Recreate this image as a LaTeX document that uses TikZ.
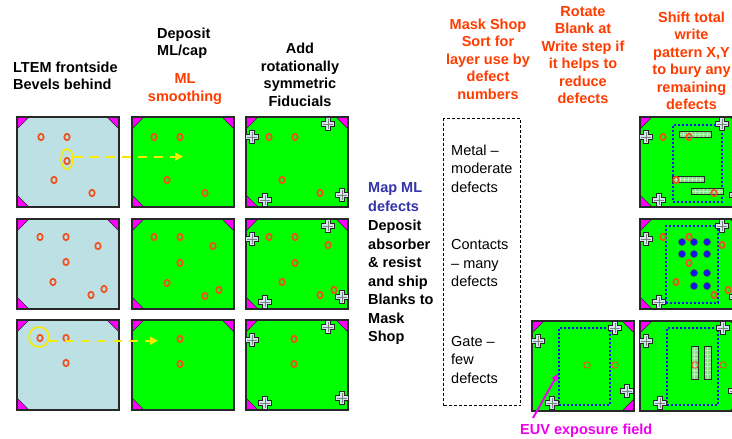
\documentclass[tikz,border=0pt]{standalone}
\usepackage{fontspec}
\setmainfont{Liberation Sans}
\usetikzlibrary{arrows.meta,shapes.geometric}
\definecolor{ltem}{RGB}{189,224,228}
\definecolor{mlgreen}{RGB}{0,255,0}
\definecolor{bevel}{RGB}{255,0,255}
\definecolor{defect}{RGB}{240,80,30}
\definecolor{hdrred}{RGB}{255,60,0}
\definecolor{mapblue}{RGB}{51,51,170}
\definecolor{boxline}{RGB}{40,40,40}
\definecolor{fid}{RGB}{210,232,240}
\definecolor{barfill}{RGB}{130,225,130}
\definecolor{barline}{RGB}{190,245,190}
\definecolor{euv}{RGB}{240,0,240}
\definecolor{yel}{RGB}{245,235,0}
\definecolor{dotblue}{RGB}{20,20,240}
\newcommand\mkWafer[5]{%
  \node[waferfill, fill=#4] (#1) at (#2,#3) {};
  \foreach \cx/\cy/\sx/\sy in {#5}{%
    \filldraw[bevelcorner] (#2+\cx,#3+\cy) -- ++(12*\sx,0) -- ++(-12*\sx,12*\sy) -- cycle;}
  \draw[waferedge] (#1.north west) rectangle (#1.south east);
}
\newcommand\mkDefects[3]{\foreach \dx/\dy in {#3}{\pic at (#1+\dx,#2+\dy) {defect};}}
\newcommand\mkThin[3]{\foreach \dx/\dy in {#3}{\pic at (#1+\dx,#2+\dy) {thindefect};}}
\newcommand\mkFids[3]{\foreach \dx/\dy in {#3}{\pic at (#1+\dx,#2+\dy) {fiducial};}}
\newcommand\mkHBar[2]{%
  \fill[barfill] (#1,#2) rectangle ++(32,6);
  \foreach \i in {4,8,...,28}{\draw[barline, line width=0.4pt] (#1+\i,#2) -- ++(0,6);}
  \draw[barline, line width=0.4pt] (#1,#2+3) -- ++(32,0);
  \draw[boxline, line width=0.8pt] (#1,#2) rectangle ++(32,6);}
\newcommand\mkVBar[2]{%
  \fill[barfill] (#1,#2) rectangle ++(7,33);
  \foreach \i in {4,8,...,28}{\draw[barline, line width=0.4pt] (#1,#2+\i) -- ++(7,0);}
  \draw[barline, line width=0.4pt] (#1+3.5,#2) -- ++(0,33);
  \draw[boxline, line width=0.8pt] (#1,#2) rectangle ++(7,33);}
\begin{document}
\begin{tikzpicture}[x=1pt,y=-1pt,
  waferfill/.style={minimum width=102pt, minimum height=90pt, anchor=north west, inner sep=0pt, outer sep=0pt},
  waferedge/.style={draw=boxline, line width=1.2pt},
  bevelcorner/.style={fill=bevel, draw=boxline, line width=0.6pt},
  defect/.pic={\draw[draw=defect, line width=1.7pt] (0,0) ellipse [x radius=2.7, y radius=3.2];},
  thindefect/.pic={\draw[draw=defect, line width=0.9pt] (0,0) circle [radius=3.2];},
  fiducial/.pic={\filldraw[fill=fid, draw=black!85, line width=0.7pt] (-2.2,-6.5) -- (2.2,-6.5) -- (2.2,-2.2) -- (6.5,-2.2) -- (6.5,2.2) -- (2.2,2.2) -- (2.2,6.5) -- (-2.2,6.5) -- (-2.2,2.2) -- (-6.5,2.2) -- (-6.5,-2.2) -- (-2.2,-2.2) -- cycle;
    \draw[gray, line width=0.5pt] (-5,0) -- (5,0) (0,-5) -- (0,5);},
  field/.style={draw=dotblue, line width=2pt, dash pattern=on 2pt off 2pt, anchor=north west, inner sep=0pt},
  bluedot/.style={circle, fill=dotblue, draw=black!70, line width=0.5pt, minimum size=7pt, inner sep=0pt},
  hdr/.style={font=\fontsize{14.5}{17.5}\selectfont\bfseries, align=center, inner sep=0pt},
  mid/.style={font=\fontsize{14.5}{18.5}\selectfont\bfseries, align=left, inner sep=0pt},
  boxtxt/.style={font=\fontsize{14.5}{18.5}\selectfont, align=left, inner sep=0pt, anchor=west},
  yelarrow/.style={draw=yel, line width=2pt, dash pattern=on 9pt off 7pt, -{Triangle[length=8pt,width=8pt]}},
  yelring/.style={draw=yel, line width=1.6pt, inner sep=0pt}
]
\useasboundingbox (0,0) rectangle (732,439);
\begin{scope}
\clip (0,0) rectangle (732,439);
% ---- row 1
\mkWafer{w11}{17}{117}{ltem}{0/0/1/1,102/0/-1/1,0/90/1/-1}
\mkDefects{17}{117}{24/20,50/20,37/63,75/76,50/44}
\mkWafer{w12}{132}{117}{mlgreen}{0/0/1/1,102/0/-1/1,0/90/1/-1}
\mkDefects{132}{117}{22/20,48/20,35/63,73/76}
\mkWafer{w13}{246}{117}{mlgreen}{0/0/1/1,102/0/-1/1,0/90/1/-1}
\mkDefects{246}{117}{23/20,49/20,36/63,74/76}
\mkFids{246}{117}{82/7,6/20,19/83,96/78}
% ---- row 2
\mkWafer{w21}{17}{219}{ltem}{0/0/1/1,102/0/-1/1,0/90/1/-1}
\mkDefects{17}{219}{23/18,49/18,81/27,49/43,36/63,74/76,87/70}
\mkWafer{w22}{132}{219}{mlgreen}{0/0/1/1,102/0/-1/1,0/90/1/-1}
\mkDefects{132}{219}{22/18,48/18,81/27,48/44,35/64,73/77,87/71}
\mkWafer{w23}{246}{219}{mlgreen}{0/0/1/1,102/0/-1/1,0/90/1/-1}
\mkDefects{246}{219}{23/18,49/18,82/26,49/44,36/63,74/76,88/71}
\mkFids{246}{219}{82/7,6/20,19/83,96/78}
% ---- row 3
\mkWafer{w31}{17}{320}{ltem}{0/0/1/1,102/0/-1/1,0/90/1/-1}
\mkDefects{17}{320}{23/18,49/18,49/43}
\mkWafer{w32}{132}{320}{mlgreen}{0/0/1/1,102/0/-1/1,0/90/1/-1}
\mkDefects{132}{320}{48/19,48/44}
\mkWafer{w33}{246}{320}{mlgreen}{0/0/1/1,102/0/-1/1,0/90/1/-1}
\mkDefects{246}{320}{48/19,48/44}
\mkFids{246}{320}{82/7,6/20,19/83,96/78}
% ---- rotate column
\mkWafer{w53}{532}{321}{mlgreen}{0/0/1/1,102/0/-1/1,102/90/-1/-1}
\node[field, minimum width=51pt, minimum height=77pt] (field5) at (558,327) {};
\mkThin{532}{321}{55/44,83/44}
\mkFids{532}{321}{83/7,6/20,20/82,95/70}
% ---- shift column
\mkWafer{w61}{640}{117}{mlgreen}{0/0/1/1,102/0/-1/1,0/90/1/-1}
\node[field, minimum width=49pt, minimum height=77pt] (field61) at (672,124) {};
\mkHBar{679}{131}
\mkHBar{672}{176}
\mkHBar{691}{188}
\mkDefects{640}{117}{23/20,49/20,36/63,74/76}
\mkFids{640}{117}{82/7,6/20,19/83,96/78}
\mkWafer{w62}{640}{219}{mlgreen}{0/0/1/1,102/0/-1/1,0/90/1/-1}
\node[field, minimum width=52pt, minimum height=77pt] (field62) at (665,225) {};
\foreach \bx/\by [count=\k] in {682/242,694/242,707/242,682/254,694/254,707/254,694/273,707/273,694/286,707/286}{
  \node[bluedot] (dot\k) at (\bx,\by) {};}
\mkDefects{640}{219}{23/18,49/18,82/26,49/44,36/63,74/76,88/71}
\mkFids{640}{219}{82/7,6/20,19/83,96/78}
\mkWafer{w63}{640}{321}{mlgreen}{0/0/1/1,102/0/-1/1,102/90/-1/-1}
\node[field, minimum width=51pt, minimum height=77pt] (field63) at (666,327) {};
\mkVBar{691}{346}
\mkVBar{704}{346}
\mkThin{640}{321}{55/44,83/44}
\mkFids{640}{321}{83/7,6/20,20/82,95/70}
\end{scope}
% ---- highlighted defects and arrows
\node[yelring, ellipse, minimum width=12pt, minimum height=20pt] (hl1) at (67,159) {};
\coordinate (tip1) at (183,0);
\draw[yelarrow] (hl1.20) -- (hl1.20 -| tip1);
\node[yelring, circle, minimum size=20pt] (hl3) at (39,337) {};
\coordinate (tip3) at (158,0);
\draw[yelarrow] (hl3.-20) -- (hl3.-20 -| tip3);
% ---- sort box
\node[draw=black, line width=1.1pt, dash pattern=on 3pt off 2pt, anchor=north west, minimum width=77pt, minimum height=287pt, inner sep=0pt] (sortbox) at (443,118) {};
\node[boxtxt] (m1) at (451,168.5) {Metal --\\moderate\\defects};
\node[boxtxt] (m2) at (451,263.5) {Contacts\\-- many\\defects};
\node[boxtxt] (m3) at (451,360) {Gate --\\few\\defects};
% ---- headers
\node[hdr, anchor=west, align=left] (t1) at (13,76) {LTEM frontside\\Bevels behind};
\node[hdr, anchor=west, align=left] (t2) at (157,43.5) {Deposit\\ML/cap};
\node[hdr, text=hdrred] (t3) at (185,89) {ML\\smoothing};
\node[hdr] (t4) at (300,75) {Add\\rotationally\\symmetric\\Fiducials};
\node[hdr, text=hdrred] (t5) at (488,59) {Mask Shop\\Sort for\\layer use by\\defect\\numbers};
\node[hdr, text=hdrred] (t6) at (583,55) {Rotate\\Blank at\\Write step if\\it helps to\\reduce\\defects};
\node[hdr, text=hdrred] (t7) at (691.5,61) {Shift total\\write\\pattern X,Y\\to bury any\\remaining\\defects};
\node[mid, text=mapblue, anchor=west] (t8) at (368,197) {Map ML\\defects};
\node[mid, anchor=west] (t9) at (368,282.5) {Deposit\\absorber\\\& resist\\and ship\\Blanks to\\Mask\\Shop};
% ---- EUV label
\node[font=\fontsize{14.5}{17}\selectfont\bfseries, text=euv, anchor=west, inner sep=0pt] (euvlabel) at (520,431) {EUV exposure field};
\coordinate (euvtail) at (533,418);
\draw[draw=euv, line width=2pt, -{Triangle[length=7pt,width=6pt]}] (euvtail) -- (field5.195);
\end{tikzpicture}
\end{document}
